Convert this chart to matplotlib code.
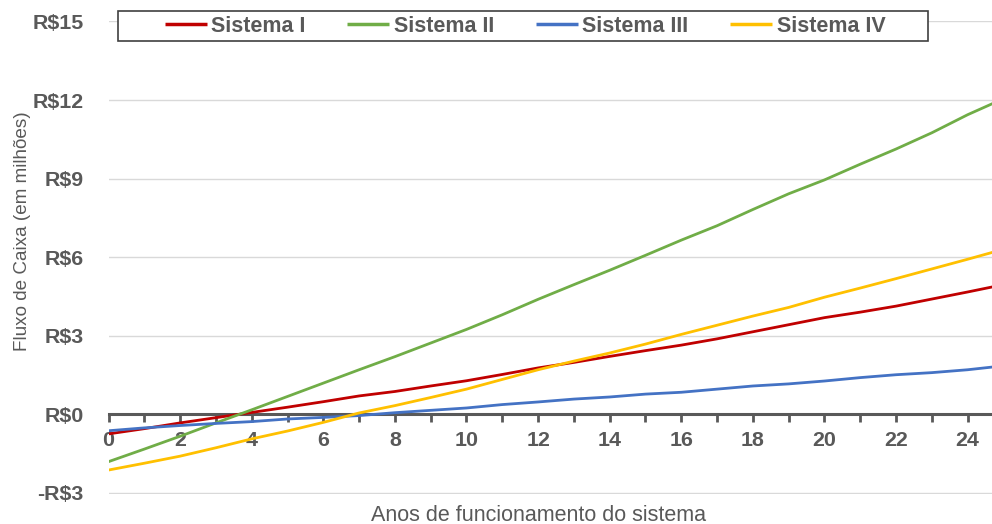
import matplotlib
matplotlib.use("Agg")
import matplotlib.pyplot as plt
from matplotlib.patches import Rectangle
from matplotlib.ticker import MultipleLocator, FuncFormatter

plt.rcParams['font.family'] = ['Liberation Sans', 'DejaVu Sans']

# Fluxo de caixa acumulado (R$ milhões) por ano de funcionamento
anos = list(range(26))
sistema_1 = [-0.75, -0.55, -0.33, -0.13, 0.07, 0.27, 0.48, 0.70, 0.87, 1.08,
             1.28, 1.52, 1.77, 1.98, 2.21, 2.43, 2.64, 2.88, 3.15, 3.42,
             3.69, 3.90, 4.13, 4.40, 4.67, 4.95]
sistema_2 = [-1.81, -1.33, -0.84, -0.33, 0.17, 0.68, 1.19, 1.70, 2.20, 2.72,
             3.24, 3.80, 4.39, 4.95, 5.50, 6.07, 6.65, 7.20, 7.82, 8.42,
             8.95, 9.55, 10.13, 10.75, 11.44, 12.05]
sistema_3 = [-0.63, -0.52, -0.43, -0.35, -0.28, -0.18, -0.12, -0.05, 0.06, 0.15,
             0.24, 0.37, 0.47, 0.58, 0.66, 0.77, 0.84, 0.96, 1.08, 1.16,
             1.27, 1.40, 1.51, 1.59, 1.70, 1.85]
sistema_4 = [-2.13, -1.87, -1.60, -1.28, -0.94, -0.64, -0.31, 0.05, 0.33, 0.64,
             0.96, 1.33, 1.70, 2.03, 2.34, 2.68, 3.05, 3.40, 3.75, 4.08,
             4.47, 4.82, 5.18, 5.55, 5.92, 6.30]

series = [("Sistema I", sistema_1, "#C00000"),
          ("Sistema II", sistema_2, "#70AD47"),
          ("Sistema III", sistema_3, "#4472C4"),
          ("Sistema IV", sistema_4, "#FFC000")]

cinza = "#595959"

fig = plt.figure(figsize=(9.92, 5.24), dpi=100)
ax = fig.add_axes([0.1094, 0.0580, 0.8906, 0.9010])

for nome, valores, cor in series:
    ax.plot(anos, valores, color=cor, lw=2.0, label=nome, zorder=3,
            solid_capstyle="butt")

ax.set_xlim(0, 24.68)
ax.set_ylim(-3.03, 15)
ax.yaxis.set_major_locator(MultipleLocator(3))
ax.xaxis.set_major_locator(MultipleLocator(2))
ax.xaxis.set_minor_locator(MultipleLocator(1))


def reais(v, pos):
    v = int(round(v))
    return f"-R${abs(v)}" if v < 0 else f"R${v}"


ax.yaxis.set_major_formatter(FuncFormatter(reais))
ax.grid(axis="y", color="#D9D9D9", lw=1.0, zorder=0)

for lado in ("top", "right", "left"):
    ax.spines[lado].set_visible(False)
ax.spines["bottom"].set_position(("data", 0))
ax.spines["bottom"].set_color(cinza)
ax.spines["bottom"].set_linewidth(2.2)
ax.spines["bottom"].set_zorder(2)

ax.tick_params(axis="y", length=0, pad=18, labelsize=15.4, labelcolor=cinza)
ax.tick_params(axis="x", which="both", direction="out", length=6, width=2,
               color=cinza, labelsize=15.4, labelcolor=cinza, pad=6)
for lab in ax.get_xticklabels() + ax.get_yticklabels():
    lab.set_fontweight("bold")

fig.text(0.543, 0.006, "Anos de funcionamento do sistema", ha="center",
         va="baseline", fontsize=15.5, color=cinza)
fig.text(0.023, 0.559, "Fluxo de Caixa (em milhões)", rotation=90,
         ha="center", va="center", fontsize=13.6, color=cinza)

# caixa da legenda, mais larga que o conteúdo
W, H = 992, 524
caixa = Rectangle((118 / W, 1 - 41 / H), 810 / W, 30 / H,
                  transform=fig.transFigure, facecolor="white",
                  edgecolor="#404040", lw=1.2, zorder=5)
fig.patches.append(caixa)

leg = fig.legend(loc="center", bbox_to_anchor=(525 / W, 1 - 26 / H),
                 ncol=4, frameon=False, handlelength=1.95,
                 handletextpad=0.2, columnspacing=1.95, borderpad=0.3,
                 borderaxespad=0, prop={"size": 15.5, "weight": "bold"})
leg.set_zorder(6)
for txt in leg.get_texts():
    txt.set_color(cinza)
for linha in leg.get_lines():
    linha.set_linewidth(2.5)

fig.savefig("out.png", dpi=100)
